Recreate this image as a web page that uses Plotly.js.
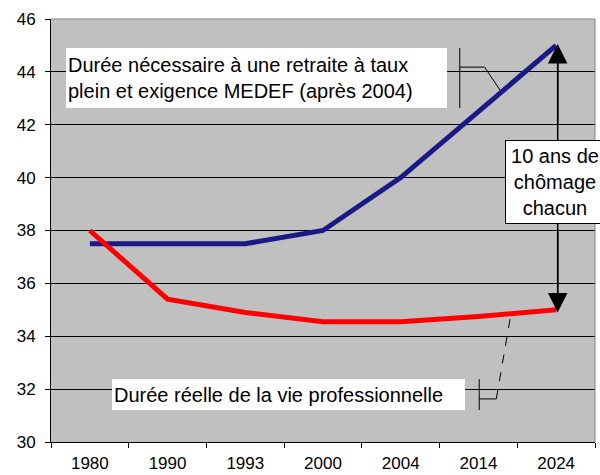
<!DOCTYPE html>
<html>
<head>
<meta charset="utf-8">
<script src="https://cdn.plot.ly/plotly-3.0.1.min.js"></script>
<style>html,body{margin:0;padding:0;background:#fff;}#chart{width:600px;height:475px;}</style>
</head>
<body>
<div id="chart"></div>
<script>
const years = ['1980', '1990', '1993', '2000', '2004', '2014', '2024'];
const dureeNecessaire = [37.5, 37.5, 37.5, 38, 40, 42.5, 45];
const dureeReelle = [38, 35.4, 34.9, 34.55, 34.55, 34.75, 35];
const yTicks = [30, 32, 34, 36, 38, 40, 42, 44, 46];
const labelNecessaire = 'Durée nécessaire à une retraite à taux<br>plein et exigence MEDEF (après 2004)';
const labelReelle = 'Durée réelle de la vie professionnelle';
const labelChomage = '10 ans de<br>chômage<br>chacun';

const fam = 'Arial, "Liberation Sans", sans-serif';

const traces = [
  {x: years, y: dureeNecessaire, type: 'scatter', mode: 'lines',
   line: {color: '#1a1a86', width: 5}, hoverinfo: 'skip'},
  {x: years, y: dureeReelle, type: 'scatter', mode: 'lines',
   line: {color: '#ff0000', width: 5}, hoverinfo: 'skip'}
];

const last = years.length - 1;
const layout = {
  width: 600, height: 475,
  margin: {l: 51, r: 5, t: 19, b: 33},
  paper_bgcolor: '#ffffff',
  plot_bgcolor: '#c0c0c0',
  showlegend: false,
  font: {family: fam, size: 17, color: '#000'},
  xaxis: {
    type: 'category', range: [-0.5, 6.5], tickson: 'boundaries',
    ticks: 'outside', ticklen: 5, tickcolor: '#000', tickwidth: 1,
    showgrid: false, showline: true, linecolor: '#000', linewidth: 1,
    ticklabelstandoff: 6,
    tickfont: {family: fam, size: 17, color: '#000'}, zeroline: false, fixedrange: true
  },
  yaxis: {
    range: [30, 46], tickvals: yTicks, ticktext: yTicks.map(String),
    ticks: 'outside', ticklen: 5, tickcolor: '#000', tickwidth: 1,
    showgrid: true, gridcolor: '#000', gridwidth: 1,
    showline: true, linecolor: '#000', linewidth: 1, zeroline: false,
    ticklabelstandoff: 6,
    tickfont: {family: fam, size: 17, color: '#000'}, fixedrange: true
  },
  shapes: [
    {type: 'line', xref: 'paper', yref: 'paper', x0: 0, x1: 1, y0: 1, y1: 1, line: {color: '#808080', width: 1}},
    {type: 'line', xref: 'paper', yref: 'paper', x0: 1, x1: 1, y0: 0, y1: 1, line: {color: '#808080', width: 1}},
    // callout for top label
    {type: 'line', xref: 'x', yref: 'y', x0: 4.76, x1: 4.76, y0: 44.9, y1: 42.63, line: {color: '#000', width: 1}},
    {type: 'line', xref: 'x', yref: 'y', x0: 4.76, x1: 5.08, y0: 44.18, y1: 44.18, line: {color: '#000', width: 1}},
    {type: 'line', xref: 'x', yref: 'y', x0: 5.08, x1: 5.28, y0: 44.18, y1: 43.3, line: {color: '#000', width: 1}},
    // callout for bottom label
    {type: 'line', xref: 'x', yref: 'y', x0: 5.01, x1: 5.01, y0: 32.38, y1: 31.21, line: {color: '#000', width: 1}},
    {type: 'line', xref: 'x', yref: 'y', x0: 5.01, x1: 5.23, y0: 31.63, y1: 31.63, line: {color: '#000', width: 1}},
    {type: 'line', xref: 'x', yref: 'y', x0: 5.23, x1: 5.42, y0: 31.63, y1: 34.88, line: {color: '#000', width: 1, dash: 'dash'}},
    // double arrow shaft
    {type: 'line', xref: 'x', yref: 'y', x0: last + 0.02, x1: last + 0.02, y0: dureeNecessaire[last] - 0.5, y1: dureeReelle[last] + 0.5, line: {color: '#000', width: 1.5}}
  ],
  annotations: [
    {x: last + 0.02, y: dureeNecessaire[last] + 0.05, xref: 'x', yref: 'y', ax: last + 0.02, ay: 42, axref: 'x', ayref: 'y',
     text: '', showarrow: true, arrowhead: 2, arrowsize: 2.6, arrowwidth: 1.5, arrowcolor: '#000', standoff: 0},
    {x: last + 0.02, y: dureeReelle[last] - 0.1, xref: 'x', yref: 'y', ax: last + 0.02, ay: 38, axref: 'x', ayref: 'y',
     text: '', showarrow: true, arrowhead: 2, arrowsize: 2.6, arrowwidth: 1.5, arrowcolor: '#000', standoff: 0},
    {x: -0.31, y: 44.9, xref: 'x', yref: 'y', xanchor: 'left', yanchor: 'top', align: 'left',
     text: labelNecessaire, showarrow: false, bgcolor: '#ffffff', borderwidth: 0, borderpad: 2,
     width: 377, height: 56, font: {family: fam, size: 20, color: '#000'}},
    {x: 0.28, y: 32.38, xref: 'x', yref: 'y', xanchor: 'left', yanchor: 'top', align: 'left',
     text: labelReelle, showarrow: false, bgcolor: '#ffffff', borderwidth: 0, borderpad: 2,
     width: 349, height: 27, font: {family: fam, size: 20, color: '#000'}},
    {x: last - 0.02, y: 39.85, xref: 'x', yref: 'y', xanchor: 'center', yanchor: 'middle', align: 'center',
     text: labelChomage, showarrow: false, bgcolor: '#ffffff', bordercolor: '#000', borderwidth: 1, borderpad: 2,
     width: 94, height: 78, font: {family: fam, size: 20, color: '#000'}}
  ]
};

Plotly.newPlot('chart', traces, layout, {displayModeBar: false, staticPlot: true});
</script>
</body>
</html>
